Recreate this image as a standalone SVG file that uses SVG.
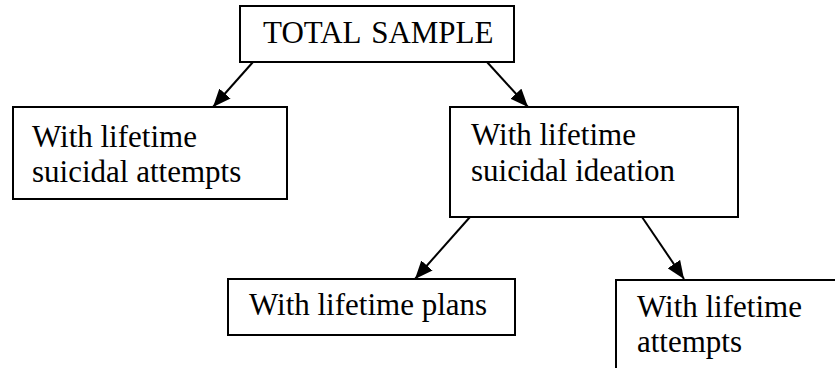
<svg xmlns="http://www.w3.org/2000/svg" width="835" height="368" viewBox="0 0 835 368">
<style>
.box{fill:#fff;stroke:#000;stroke-width:2}
.t{font-family:"Liberation Serif","Times New Roman",serif;font-size:31px;fill:#000}
.c{stroke:#000;stroke-width:2;fill:none}
</style>
<defs>
<marker id="ah" markerUnits="userSpaceOnUse" markerWidth="19" markerHeight="15" refX="18" refY="7.5" orient="auto">
<path d="M0,0 L18,7.5 L0,15 Z" fill="#000"/>
</marker>
</defs>
<rect width="835" height="368" fill="#fff"/>
<g id="connectors">
<line class="c" x1="253" y1="62" x2="213" y2="107" marker-end="url(#ah)"/>
<line class="c" x1="487" y1="62" x2="528" y2="107" marker-end="url(#ah)"/>
<line class="c" x1="470" y1="217" x2="415" y2="279" marker-end="url(#ah)"/>
<line class="c" x1="642" y1="217" x2="684" y2="279" marker-end="url(#ah)"/>
</g>
<g id="total">
<rect class="box" x="240" y="6" width="274" height="56"/>
<text class="t" x="263" y="43" word-spacing="3">TOTAL SAMPLE</text>
</g>
<g id="attempts">
<rect class="box" x="13" y="107" width="274" height="92"/>
<text class="t" x="32" y="147">With lifetime</text>
<text class="t" x="32" y="182">suicidal attempts</text>
</g>
<g id="ideation">
<rect class="box" x="450" y="107" width="288" height="110"/>
<text class="t" x="471" y="145">With lifetime</text>
<text class="t" x="471" y="181">suicidal ideation</text>
</g>
<g id="plans">
<rect class="box" x="228" y="279" width="287" height="56"/>
<text class="t" x="249" y="315">With lifetime plans</text>
</g>
<g id="lifetime-attempts">
<rect class="box" x="616" y="280" width="240" height="110"/>
<text class="t" x="637" y="317">With lifetime</text>
<text class="t" x="637" y="352">attempts</text>
</g>
</svg>
